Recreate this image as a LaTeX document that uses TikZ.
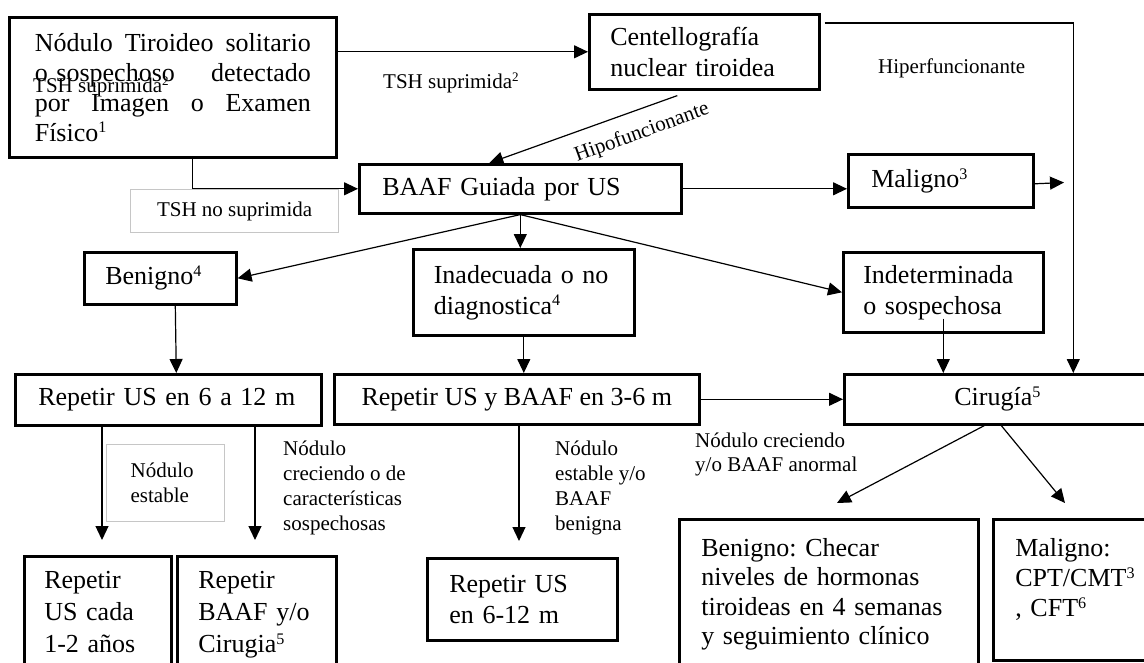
\documentclass[tikz,border=0pt]{standalone}
\usepackage{fontspec}
\usepackage{graphicx}
\setmainfont{Liberation Serif}
\usetikzlibrary{arrows.meta}

\newcommand{\boxsize}{\fontsize{26}{31}\selectfont}
\newcommand{\labsize}{\fontsize{21}{24.8}\selectfont}
\newcommand{\supr}[1]{\raisebox{0.32em}{\scalebox{0.62}{#1}}}
\frenchspacing

\begin{document}
\begin{tikzpicture}[x=1pt, y=-1pt,
  box/.style={draw, line width=2.6pt, anchor=north west, inner sep=0pt, align=left, font=\boxsize},
  lab/.style={inner sep=0pt, font=\labsize},
  tag/.style={draw=gray!45, line width=1.2pt, fill=white, anchor=north west, inner sep=0pt, font=\labsize},
  arr/.style={-{Triangle[length=14pt,width=13pt]}, line width=1.2pt}]
\useasboundingbox (0,0) rectangle (1144,662);
\clip (0,0) rectangle (1144,662);

% Boxes
\node[box, minimum width=327pt, minimum height=140pt, text width=276pt, font=\fontsize{26}{30}\selectfont] (n1) at (8,16)
  {Nódulo\hfill Tiroideo\hfill solitario\\ o sospechoso\hfill detectado\\ por\hfill Imagen\hfill o\hfill Examen\\ Físico\supr{1}};
\node[box, minimum width=230pt, minimum height=75pt, text width=188pt] (cen) at (588,13) {Centellografía\\ nuclear tiroidea};
\node[box, minimum width=322pt, minimum height=49pt, text width=276pt] (baaf) at (358,163) {BAAF Guiada por US};
\node[box, minimum width=185pt, minimum height=53pt, text width=139pt] (mal) at (847,153) {Maligno\supr{3}};
\node[box, minimum width=152pt, minimum height=52pt, text width=110pt] (ben) at (83,251) {Benigno\supr{4}};
\node[box, minimum width=221pt, minimum height=86pt, text width=180pt] (inad) at (412,248) {Inadecuada o no\\ diagnostica\supr{4}};
\node[box, minimum width=200pt, minimum height=80pt, text width=160pt] (indet) at (842,251) {Indeterminada\\ o sospechosa};
\node[box, minimum width=306pt, minimum height=51pt, text width=260pt] (rep1) at (14,373) {Repetir US en 6 a 12 m};
\node[box, minimum width=365pt, minimum height=50pt, align=center] (rep2) at (333,373) {Repetir US y BAAF en 3-6 m};
\node[box, minimum width=330pt, minimum height=50pt, text width=110pt] (cir) at (843,373) {Cirugía\supr{5}};
\node[box, minimum width=147pt, text width=107pt, inner ysep=15pt, text depth=110pt, font=\fontsize{26}{32}\selectfont] (r1a) at (23,555) {Repetir\\ US cada\\ 1-2 años};
\node[box, minimum width=159pt, text width=117pt, inner ysep=15pt, text depth=110pt, font=\fontsize{26}{32}\selectfont] (r1b) at (176,555) {Repetir\\ BAAF y/o\\ Cirugia\supr{5}};
\node[box, minimum width=190pt, minimum height=82pt, text width=146pt] (r2) at (426,557) {Repetir US\\ en 6-12 m};
\node[box, minimum width=299pt, text width=255pt, inner ysep=19pt, text depth=120pt, font=\fontsize{26}{29.5}\selectfont] (benfin) at (678,518)
  {Benigno: Checar\\ niveles de hormonas\\ tiroideas en 4 semanas\\ y seguimiento clínico};
\node[box, minimum width=180pt, text width=136pt, inner ysep=19pt, text depth=85pt, font=\fontsize{26}{30}\selectfont] (malfin) at (992,518)
  {Maligno:\\ CPT/CMT\supr{3}\\ , CFT\supr{6}};

% Grey tags
\node[tag, minimum width=208pt, minimum height=43pt] (tshno) at (130,189) {TSH no suprimida};
\node[tag, minimum width=118pt, minimum height=77pt, text width=70pt, align=left] (estab) at (106,444) {Nódulo\\ estable};

% Arrow ends
\coordinate (e1) at (102,540);
\coordinate (e2) at (255,540);
\coordinate (e3) at (519,541);
\coordinate (e4) at (837,503);
\coordinate (e5) at (1065,503);
\coordinate (e6) at (1064,182.5);

% Arrows
\draw[arr] (n1.east |- cen.west) -- (cen.west);
\draw[arr] ([xshift=4pt,yshift=-10pt]cen.north east) -| ([xshift=64pt]cir.north);
\draw[arr] ([xshift=-27pt,yshift=-5pt]cen.south) -- ([xshift=-31pt]baaf.north);
\draw[arr] ([xshift=20pt]n1.south) |- (baaf.west);
\draw[arr] (baaf.east) -- (baaf.east -| mal.west);
\draw[arr] ([yshift=-3pt]mal.east) -- (e6);
\draw[arr] (baaf.south) -- (ben.east);
\draw[arr] (baaf.south) -- (baaf.south |- inad.north);
\draw[arr] (baaf.south) -- (indet.west);
\draw[arr] ([xshift=15pt]ben.south) -- ([xshift=8pt]rep1.north);
\draw[arr] (inad.south) -- (inad.south |- rep2.north);
\draw[arr] ([yshift=15pt]indet.south) -- (indet.south |- cir.north);
\draw[arr] (rep2.east) -- (cir.west);
\draw[arr] (rep1.south -| e1) -- (e1);
\draw[arr] (rep1.south -| e2) -- (e2);
\draw[arr] (rep2.south -| e3) -- (e3);
\draw[arr] ([xshift=-25pt]cir.south) -- (e4);
\draw[arr] ([xshift=-8pt]cir.south) -- (e5);

% Labels
\node[lab, anchor=base west] (tsh1) at (33,92) {TSH suprimida\supr{2}};
\node[lab, anchor=base west] (tsh2) at (383,88) {TSH suprimida\supr{2}};
\node[lab, anchor=base west] (hiper) at (878,73) {Hiperfuncionante};
\node[lab, rotate=20] (hipo) at (642,133) {Hipofuncionante};
\node[lab, anchor=north west, align=left] (crec) at (283,441) {Nódulo\\ creciendo o de\\ características\\ sospechosas};
\node[lab, anchor=north west, align=left] (estab2) at (555,441) {Nódulo\\ estable y/o\\ BAAF\\ benigna};
\node[lab, anchor=north west, align=left, font=\fontsize{21}{23.5}\selectfont] (crec2) at (695,433) {Nódulo creciendo\\ y/o BAAF anormal};
\end{tikzpicture}
\end{document}
